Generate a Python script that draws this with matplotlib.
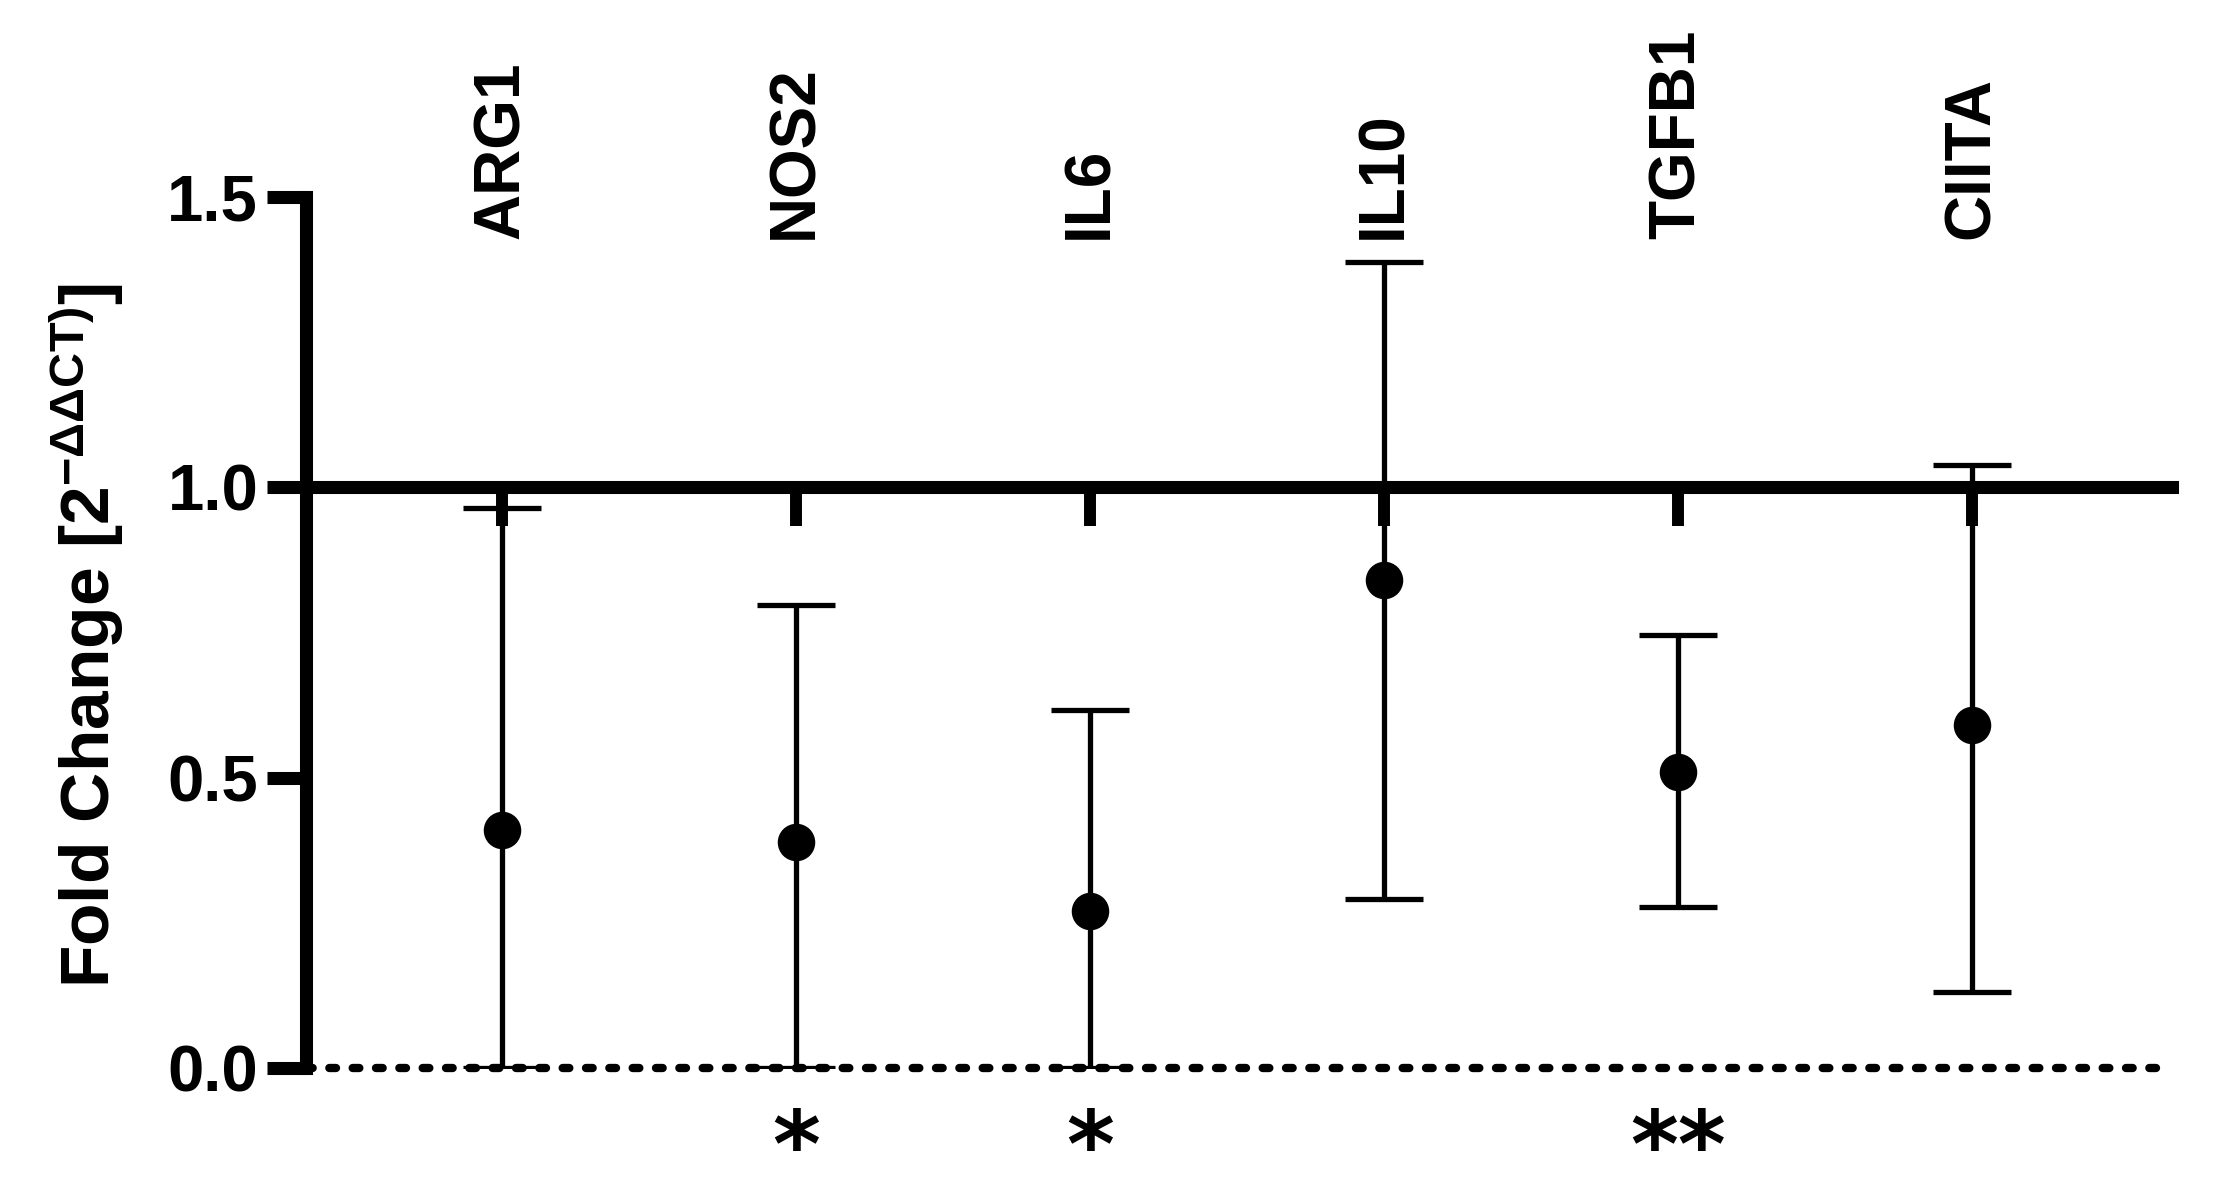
import matplotlib
matplotlib.use("Agg")
import matplotlib.pyplot as plt
import numpy as np

# data
genes = ["ARG1", "NOS2", "IL6", "IL10", "TGFB1", "CIITA"]
mean_fc = [0.41, 0.39, 0.27, 0.84, 0.51, 0.59]
upper_fc = [0.965, 0.797, 0.616, 1.388, 0.746, 1.039]
lower_fc = [0.0, 0.0, 0.0, 0.291, 0.277, 0.131]
signif = ["", "*", "*", "", "**", ""]
y_ticks = [0.0, 0.5, 1.0, 1.5]

plt.rcParams["font.family"] = ["Liberation Sans", "DejaVu Sans"]
plt.rcParams["font.weight"] = "bold"
plt.rcParams["mathtext.fontset"] = "custom"
plt.rcParams["mathtext.rm"] = "Liberation Sans"
plt.rcParams["mathtext.it"] = "Liberation Sans:italic"
plt.rcParams["mathtext.bf"] = "Liberation Sans:bold"

fig = plt.figure(figsize=(22.23, 11.97), dpi=100)
ax = fig.add_axes([0.1377, 0.1078, 0.8393, 0.7276])

x = np.arange(len(genes))
mean_fc = np.array(mean_fc)
yerr = [mean_fc - np.array(lower_fc), np.array(upper_fc) - mean_fc]

# points with error bars
ax.errorbar(x, mean_fc, yerr=yerr, fmt="o", color="black", ms=26,
            elinewidth=3.8, capsize=28, capthick=3.8, zorder=2)

# dotted baseline at 0 (not clipped, it sits on the axes edge)
ax.axhline(0, color="black", lw=6, ls=(0, (0.8, 2.0)),
           dash_capstyle="round", zorder=1, clip_on=False)

ax.set_xlim(-0.665, 5.68)
ax.set_ylim(0, 1.5)

# axis crossing at 1.0, like the prism layout
for s in ["top", "right"]:
    ax.spines[s].set_visible(False)
ax.spines["bottom"].set_position(("data", 1.0))
ax.spines["bottom"].set_linewidth(9.4)
ax.spines["left"].set_linewidth(9.4)

ax.set_yticks(y_ticks)
ax.set_yticklabels([f"{v:.1f}" for v in y_ticks])
ax.tick_params(axis="y", direction="out", length=28, width=9.4, pad=6.5,
               labelsize=47)
ax.set_xticks(x)
ax.set_xticklabels([])
ax.tick_params(axis="x", direction="out", length=28, width=8.6)

# gene names standing above the plot
for xi, g in zip(x, genes):
    ax.text(xi, 1.428, g, rotation=90, ha="center", va="bottom",
            fontsize=46, fontweight="bold", clip_on=False)

# significance stars under the baseline
for xi, s in zip(x, signif):
    if s:
        ax.text(xi, -0.188, s, ha="center", va="baseline", fontsize=66,
                fontweight="bold", family="DejaVu Sans", clip_on=False)

fig.text(0.039, 0.469, r"Fold Change [2$^{\mathrm{-\Delta\Delta CT)}}$]",
         rotation=90, ha="center", va="center", fontsize=50,
         fontweight="bold")

fig.savefig("out.png", dpi=100)
